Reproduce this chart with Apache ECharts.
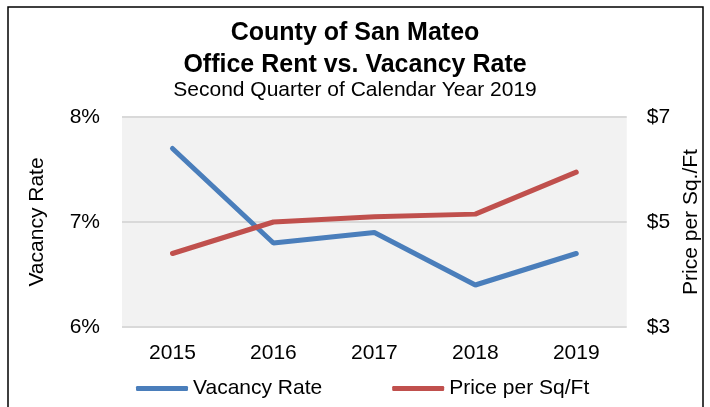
<!DOCTYPE html>
<html>
<head>
<meta charset="utf-8">
<script src="https://cdn.jsdelivr.net/npm/echarts@6/dist/echarts.min.js"></script>
<style>
  html, body { margin: 0; padding: 0; background: #ffffff; }
  #chart { width: 710px; height: 407px; }
</style>
</head>
<body>
<div id="chart"></div>
<script>
var years = ['2015', '2016', '2017', '2018', '2019'];
var vacancyRate = [7.7, 6.8, 6.9, 6.4, 6.7];
var pricePerSqFt = [4.4, 5.0, 5.1, 5.15, 5.95];

var myChart = echarts.init(document.getElementById('chart'));
var font = 'Liberation Sans, Arial, sans-serif';

var option = {
  backgroundColor: '#ffffff',
  textStyle: { fontFamily: font },
  graphic: [{
    type: 'rect',
    shape: { x: 8, y: 7, width: 695, height: 420 },
    style: { fill: 'none', stroke: '#000', lineWidth: 1.5 },
    silent: true
  }],
  title: {
    text: 'County of San Mateo\nOffice Rent vs. Vacancy Rate',
    subtext: 'Second Quarter of Calendar Year 2019',
    left: 'center',
    top: 12,
    itemGap: -3,
    textStyle: { fontFamily: font, fontSize: 25, fontWeight: 'bold', color: '#000', lineHeight: 32 },
    subtextStyle: { fontFamily: font, fontSize: 21, color: '#000', lineHeight: 24 }
  },
  legend: {
    left: 131,
    top: 373,
    icon: 'roundRect',
    itemWidth: 52,
    itemHeight: 5,
    itemGap: 70,
    textStyle: { fontFamily: font, fontSize: 21, color: '#000' },
    data: ['Vacancy Rate', 'Price per Sq/Ft']
  },
  grid: {
    left: 122,
    right: 82,
    top: 117,
    bottom: 80,
    show: true,
    backgroundColor: '#f2f2f2',
    borderWidth: 0
  },
  xAxis: {
    type: 'category',
    data: years,
    boundaryGap: true,
    axisLine: { show: false },
    axisTick: { show: false },
    axisLabel: { color: '#000', fontSize: 21, margin: 16, fontFamily: font }
  },
  yAxis: [
    {
      type: 'value',
      min: 6,
      max: 8,
      interval: 1,
      name: 'Vacancy Rate',
      nameLocation: 'middle',
      nameGap: 74,
      nameTextStyle: { color: '#000', fontSize: 21, fontFamily: font },
      axisLine: { show: false },
      axisTick: { show: false },
      axisLabel: { color: '#000', fontSize: 21, margin: 22, formatter: '{value}%', fontFamily: font },
      splitLine: { lineStyle: { color: '#d9d9d9', width: 2 } }
    },
    {
      type: 'value',
      min: 3,
      max: 7,
      interval: 2,
      position: 'right',
      name: 'Price per Sq./Ft',
      nameLocation: 'middle',
      nameGap: 47,
      nameTextStyle: { color: '#000', fontSize: 21, fontFamily: font },
      axisLine: { show: false },
      axisTick: { show: false },
      axisLabel: { color: '#000', fontSize: 21, margin: 20, formatter: '${value}', fontFamily: font },
      splitLine: { show: false }
    }
  ],
  series: [
    {
      name: 'Vacancy Rate',
      type: 'line',
      yAxisIndex: 0,
      data: vacancyRate,
      symbol: 'none',
      color: '#4a7ebb',
      lineStyle: { width: 5, color: '#4a7ebb', cap: 'round' }
    },
    {
      name: 'Price per Sq/Ft',
      type: 'line',
      yAxisIndex: 1,
      data: pricePerSqFt,
      symbol: 'none',
      color: '#c0504d',
      lineStyle: { width: 5, color: '#c0504d', cap: 'round' }
    }
  ]
};

myChart.setOption(option);
window.onresize = function () {
  myChart.resize();
};
</script>
</body>
</html>
